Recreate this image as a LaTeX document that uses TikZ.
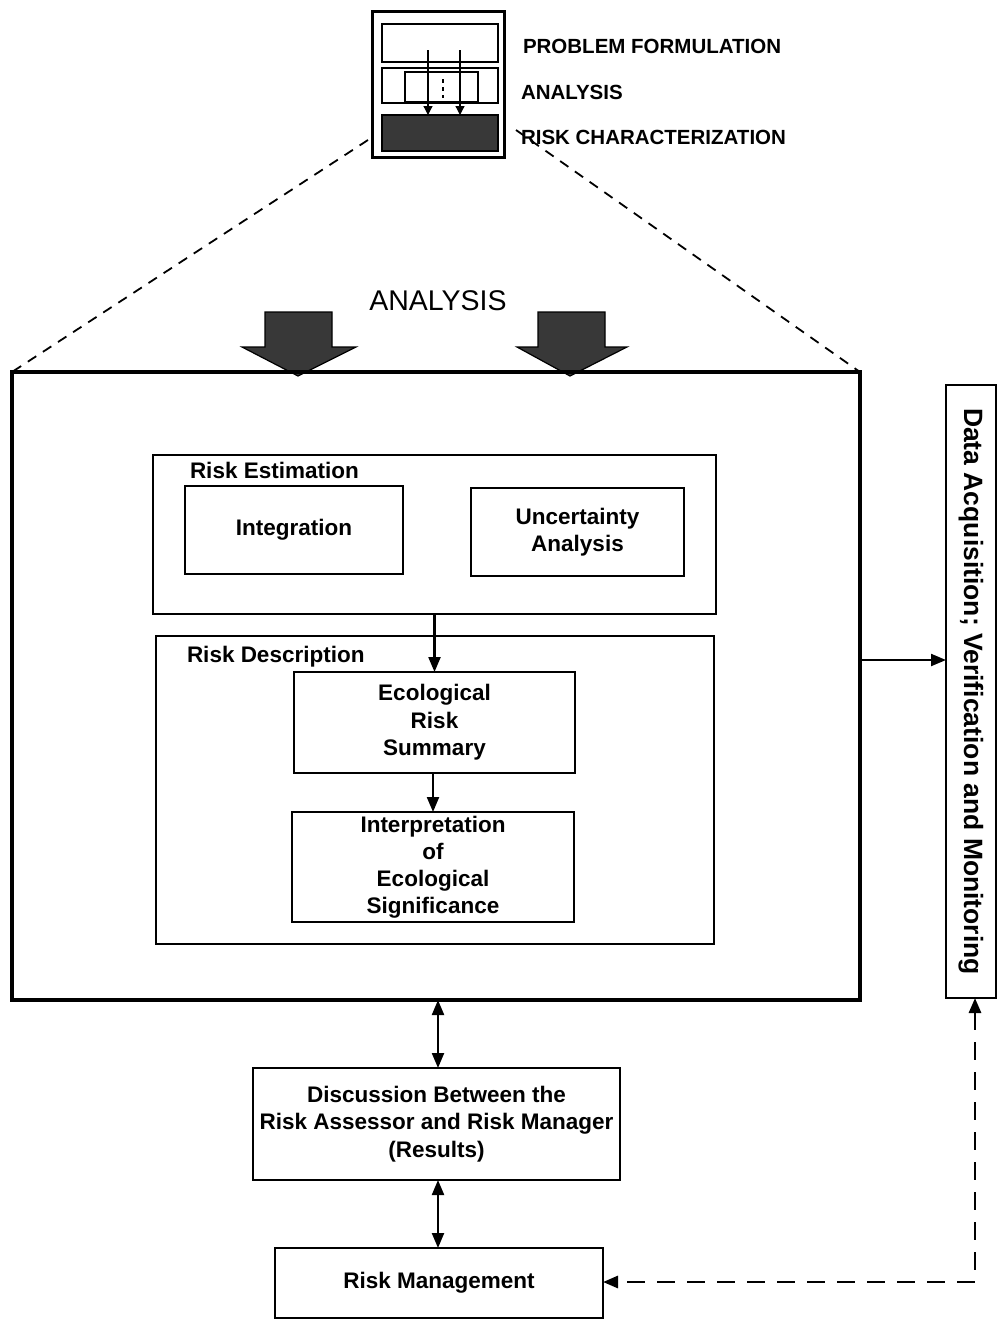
\documentclass[tikz,border=0pt]{standalone}
\usepackage{fontspec}
\setmainfont{Liberation Sans}
\usetikzlibrary{arrows.meta,calc}
\begin{document}
\begin{tikzpicture}[x=1pt,y=-1pt,
  every node/.style={inner sep=0pt, outer sep=0pt, font=\bfseries\fontsize{22.5}{27.5}\selectfont, align=center},
  box/.style={draw, line width=2.4pt},
  bigbox/.style={draw, line width=3.4pt},
  label/.style={anchor=west},
  toplabel/.style={anchor=west, font=\bfseries\fontsize{20.5}{24}\selectfont},
  tip/.style={-{Triangle[length=15pt,width=12pt]}},
  both/.style={{Triangle[length=15pt,width=12pt]}-{Triangle[length=15pt,width=12pt]}},
  conn/.style={line width=2.2pt},
  blockarrow/.style={fill=black!78, draw=black, line width=1.2pt},
  leader/.style={line width=1.8pt, dash pattern=on 10pt off 8pt}
]
\useasboundingbox (0,0) rectangle (1003,1320);

% --- small overview icon of the three phases ---
\node[bigbox, minimum width=132, minimum height=146] (icon) at (438.5,84.5) {};
\node[draw, line width=1.8pt, minimum width=116, minimum height=38] (pf) at (440,43) {};
\node[draw, line width=1.8pt, minimum width=116, minimum height=35] (an) at (440,85.5) {};
\node[draw, line width=1.6pt, minimum width=73, minimum height=30] (ani) at (441.5,87) {};
\node[draw, line width=1.8pt, fill=black!78, minimum width=116, minimum height=36] (rc) at (440,133) {};
\draw[line width=1.3pt] (428,50) -- (428,102);
\draw[line width=1.3pt] (460,50) -- (460,102);
\draw[line width=1.3pt, -{Triangle[length=9pt,width=9pt]}] (428,100) -- (rc.north -| 428,0);
\draw[line width=1.3pt, -{Triangle[length=9pt,width=9pt]}] (460,100) -- (rc.north -| 460,0);
\draw[line width=1.6pt, dash pattern=on 4pt off 4pt] (443,79) -- (443,98);
\node[toplabel] (lpf) at (523,46) {PROBLEM FORMULATION};
\node[toplabel] (lan) at (521,92) {ANALYSIS};
\node[toplabel] (lrc) at (521,137) {RISK CHARACTERIZATION};

% --- analysis heading and block arrows ---
\node[font=\fontsize{28.5}{32}\selectfont] (head) at (438,301) {ANALYSIS};
\draw[blockarrow] (265,312) -- (332,312) -- (332,347) -- (356,347) -- (298,376) -- (242,347) -- (265,347) -- cycle;
\draw[blockarrow] (538,312) -- (605,312) -- (605,347) -- (627,347) -- (570,376) -- (517,347) -- (538,347) -- cycle;

% --- main risk characterization box ---
\node[bigbox, minimum width=848, minimum height=628] (main) at (436,686) {};
\draw[leader] (368,140) -- (main.north west);
\draw[leader] (516,130) -- (main.north east);

% risk estimation
\node[box, minimum width=563, minimum height=159] (est) at (434.5,534.5) {};
\node[label] (estl) at (190,470) {Risk Estimation};
\node[box, minimum width=218, minimum height=88] (integ) at (294,530) {Integration};
\node[box, minimum width=213, minimum height=88] (unc) at (577.5,532) {Uncertainty\\Analysis};

% risk description
\node[box, minimum width=558, minimum height=308] (desc) at (435,790) {};
\node[label] (descl) at (187,657) {Risk Description};
\node[box, minimum width=281, minimum height=101] (ers) at (434.5,722.5) {Ecological\\Risk\\Summary};
\node[box, minimum width=282, minimum height=110] (interp) at (433,867) {\raisebox{-4pt}{\begin{tabular}{@{}c@{}}Interpretation\\[-0.5pt]of\\[-0.5pt]Ecological\\[-0.5pt]Significance\end{tabular}}};

\draw[conn, tip] (est.south -| ers.north) -- (ers.north);
\draw[conn, tip] (ers.south -| interp.north) -- (interp.north);

% --- data acquisition column ---
\node[box, minimum width=50, minimum height=613] (data) at (971,691.5) {\rotatebox{-90}{\fontsize{26.5}{30}\selectfont Data Acquisition; Verification and Monitoring}};
\draw[conn, tip] (main.east |- 0,660) -- (data.west |- 0,660);

% --- discussion and risk management ---
\node[box, minimum width=367, minimum height=112] (disc) at (436.5,1124) {Discussion Between the\\Risk Assessor and Risk Manager\\(Results)};
\node[box, minimum width=328, minimum height=70] (rm) at (439,1283) {Risk Management};
\draw[conn, both] (main.south -| 438,0) -- (disc.north -| 438,0);
\draw[conn, both] (disc.south -| 438,0) -- (rm.north -| 438,0);
\draw[line width=2.8pt, both, dash pattern=on 18pt off 12pt] (data.south -| 975,0) -- (975,1282) -- (rm.east |- 0,1282);
\end{tikzpicture}
\end{document}
